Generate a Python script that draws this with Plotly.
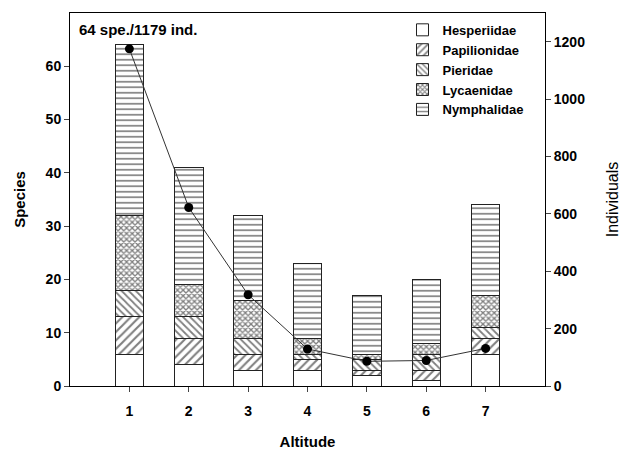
import plotly.graph_objects as go

altitude = [1, 2, 3, 4, 5, 6, 7]
hesperiidae = [6, 4, 3, 3, 2, 1, 6]
papilionidae = [7, 5, 3, 2, 1, 2, 3]
pieridae = [5, 4, 3, 1, 2, 3, 2]
lycaenidae = [14, 6, 7, 3, 1, 2, 6]
nymphalidae = [32, 22, 16, 14, 11, 12, 17]
individuals = [1175, 622, 318, 129, 86, 89, 131]

families = [
    ("Hesperiidae", hesperiidae, "", 6, 0.2),
    ("Papilionidae", papilionidae, "/", 6, 0.35),
    ("Pieridae", pieridae, "\\", 5, 0.35),
    ("Lycaenidae", lycaenidae, "x", 4, 0.55),
    ("Nymphalidae", nymphalidae, "-", 5.5, 0.3),
]

FONT = "Liberation Sans, Arial, sans-serif"

fig = go.Figure()
for name, vals, shape, psize, sol in families:
    fig.add_trace(go.Bar(
        x=altitude, y=vals, name=name, width=0.48,
        marker=dict(color="white", line=dict(color="#222", width=1),
                    pattern=dict(shape=shape, fgcolor="#000", bgcolor="white",
                                 size=psize, solidity=sol)),
        yaxis="y",
    ))

fig.add_trace(go.Scatter(
    x=altitude, y=individuals, mode="lines+markers", yaxis="y2",
    line=dict(color="#333", width=1), marker=dict(color="black", size=9),
    showlegend=False,
))

fig.update_layout(
    width=623, height=450,
    margin=dict(l=70, r=78, t=13, b=64),
    barmode="stack",
    plot_bgcolor="white", paper_bgcolor="white",
    font=dict(family=FONT, size=13, color="black"),
    xaxis=dict(range=[0, 8], tickvals=altitude, ticks="outside", ticklen=5,
               ticklabelstandoff=7, automargin=False,
               showline=True, linecolor="black", linewidth=1, mirror=True,
               showgrid=False, zeroline=False,
               tickfont=dict(size=14, weight="bold"),
               title=dict(text="Altitude", font=dict(size=15, weight="bold"), standoff=20)),
    yaxis=dict(range=[0, 70], tickvals=[0, 10, 20, 30, 40, 50, 60], ticks="outside", ticklen=5,
               automargin=False,
               showline=True, linecolor="black", linewidth=1,
               showgrid=False, zeroline=False,
               tickfont=dict(size=14, weight="bold"),
               title=dict(text="Species", font=dict(size=15, weight="bold"), standoff=16)),
    yaxis2=dict(range=[0, 1300], tickvals=[0, 200, 400, 600, 800, 1000, 1200],
                overlaying="y", side="right", ticks="outside", ticklen=5,
                automargin=False,
                showline=True, linecolor="black", linewidth=1,
                showgrid=False, zeroline=False,
                tickfont=dict(size=14, weight="bold"),
                title=dict(text="Individuals", font=dict(size=16), standoff=22)),
    legend=dict(x=0.70, y=0.995, xanchor="left", yanchor="top",
                bgcolor="rgba(0,0,0,0)", font=dict(size=13, weight="bold"),
                tracegroupgap=0, traceorder="normal"),
    annotations=[dict(text="64 spe./1179 ind.", xref="paper", yref="paper",
                      x=0.015, y=0.985, xanchor="left", yanchor="top", showarrow=False,
                      font=dict(size=15, weight="bold"))],
)

fig.write_html("out.html")
